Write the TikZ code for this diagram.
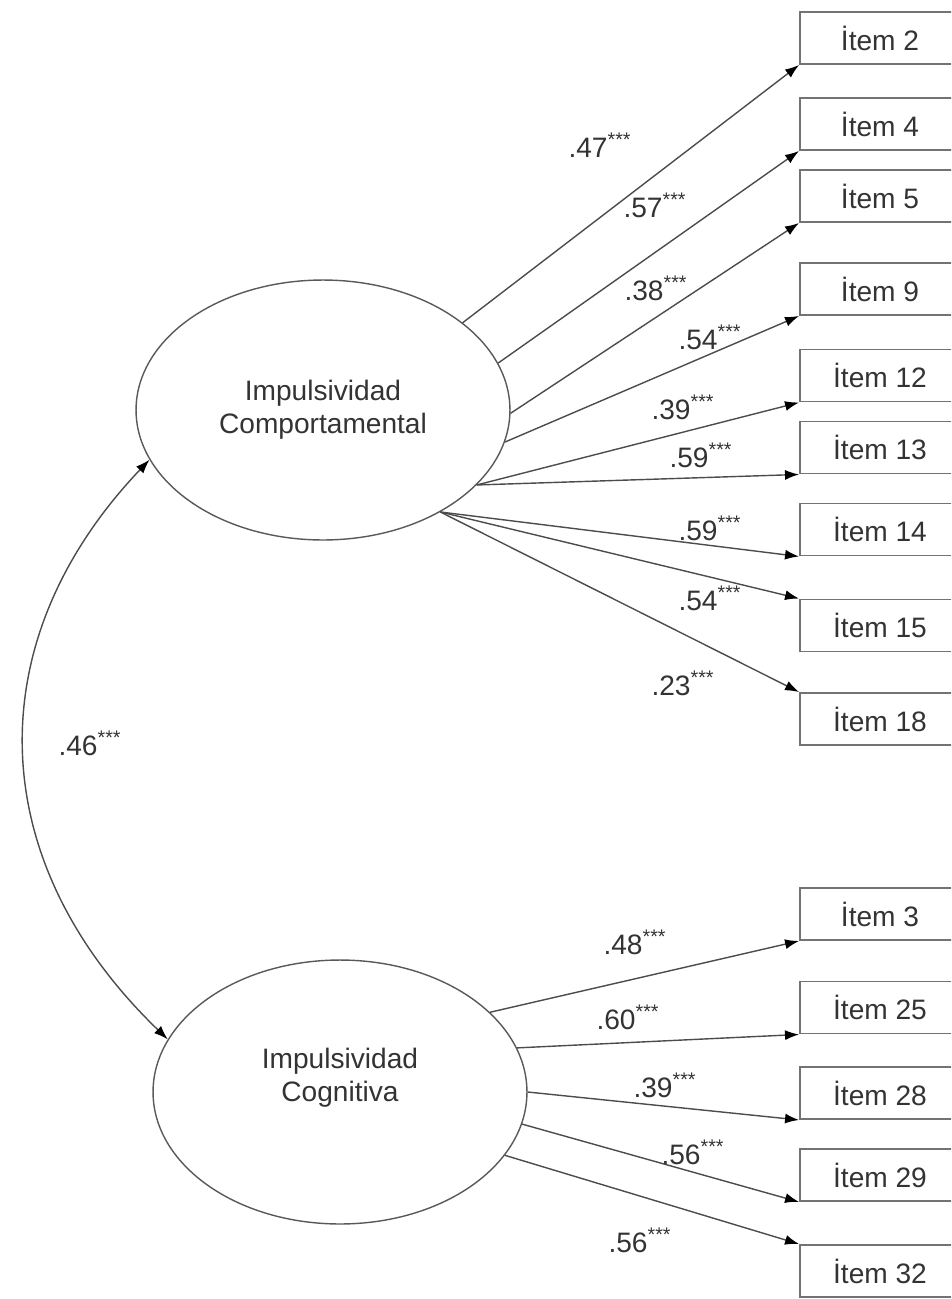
\documentclass[tikz,border=0pt]{standalone}
\usepackage{fontspec}
\setmainfont{Liberation Sans}
\usetikzlibrary{shapes.geometric,arrows.meta}

\begin{document}
\begin{tikzpicture}[x=0.02cm,y=-0.02cm,
  every node/.style={font=\fontsize{16}{19}\selectfont,text=black!80},
  factor/.style={draw=black!65,line width=0.8pt,ellipse,minimum width=7.48cm,minimum height=5.2cm,align=center,inner sep=0pt},
  itembox/.style={draw=black!55,line width=1.1pt,rectangle,minimum width=3.2cm,minimum height=1.04cm,inner sep=0pt},
  load/.style={draw=black!70,line width=0.8pt,-{Latex[length=2.8mm,width=2mm,color=black]}},
  coef/.style={inner sep=0pt}]
  %\draw[step=50,gray,very thin] (0,0) grid (951,1299);
  \useasboundingbox (0,0) rectangle (951,1299);
  \clip (0,0) rectangle (951,1299);

  \node[factor] (comp) at (323,410) {Impulsividad\\Comportamental};
  \node[factor,minimum height=5.28cm,text depth=0.7cm] (cog) at (340,1092) {Impulsividad\\Cognitiva};

  \node[itembox] (i2) at (880,38) {İtem 2};
  \node[itembox] (i4) at (880,124) {İtem 4};
  \node[itembox] (i5) at (880,196) {İtem 5};
  \node[itembox] (i9) at (880,289) {İtem 9};
  \node[itembox] (i12) at (880,375.5) {İtem 12};
  \node[itembox] (i13) at (880,447.5) {İtem 13};
  \node[itembox] (i14) at (880,529.5) {İtem 14};
  \node[itembox] (i15) at (880,625.5) {İtem 15};
  \node[itembox] (i18) at (880,719) {İtem 18};

  \node[itembox] (i3) at (880,914) {İtem 3};
  \node[itembox] (i25) at (880,1007.5) {İtem 25};
  \node[itembox] (i28) at (880,1093) {İtem 28};
  \node[itembox] (i29) at (880,1175) {İtem 29};
  \node[itembox] (i32) at (880,1271) {İtem 32};

  % loadings
  \draw[load] (comp.32.7) -- (i2.south west);
  \draw[load] (comp.15) -- (i4.south west);
  \draw[load] (comp.-1) -- (i5.south west);
  \draw[load] (comp.-10.9) -- (i9.south west);
  \draw[load] (comp.-26.9) -- (i12.south west);
  \draw[load] (comp.-26.9) -- (i13.south west);
  \draw[load] (comp.-41.9) -- (i14.south west);
  \draw[load] (comp.-41.9) -- (i15.north west);
  \draw[load] (comp.-41.9) -- (i18.north west);

  \draw[load] (cog.28.5) -- (i3.south west);
  \draw[load] (cog.14.6) -- (i25.south west);
  \draw[load] (cog.0) -- (i28.south west);
  \draw[load] (cog.-10.8) -- (i29.south west);
  \draw[load] (cog.-21.4) -- (i32.north west);

  % covariance
  \draw[load,{Latex[length=2.8mm,width=2mm,color=black]}-{Latex[length=2.8mm,width=2mm,color=black]}] (comp.196.9) .. controls (-22,640) and (-18,860) .. (cog.163.5);

  \node[coef] (l2) at (600,145) {.47\textsuperscript{***}};
  \node[coef] (l4) at (655,205) {.57\textsuperscript{***}};
  \node[coef] (l5) at (656,288) {.38\textsuperscript{***}};
  \node[coef] (l9) at (710,337) {.54\textsuperscript{***}};
  \node[coef] (l12) at (683,407) {.39\textsuperscript{***}};
  \node[coef] (l13) at (701,455) {.59\textsuperscript{***}};
  \node[coef] (l14) at (710,528) {.59\textsuperscript{***}};
  \node[coef] (l15) at (710,598) {.54\textsuperscript{***}};
  \node[coef] (l18) at (683,683) {.23\textsuperscript{***}};
  \node[coef] (lcov) at (90,743) {.46\textsuperscript{***}};

  \node[coef] (l3) at (635,942) {.48\textsuperscript{***}};
  \node[coef] (l25) at (628,1017) {.60\textsuperscript{***}};
  \node[coef] (l28) at (665,1085) {.39\textsuperscript{***}};
  \node[coef] (l29) at (693,1152) {.56\textsuperscript{***}};
  \node[coef] (l32) at (640,1240) {.56\textsuperscript{***}};
\end{tikzpicture}
\end{document}
